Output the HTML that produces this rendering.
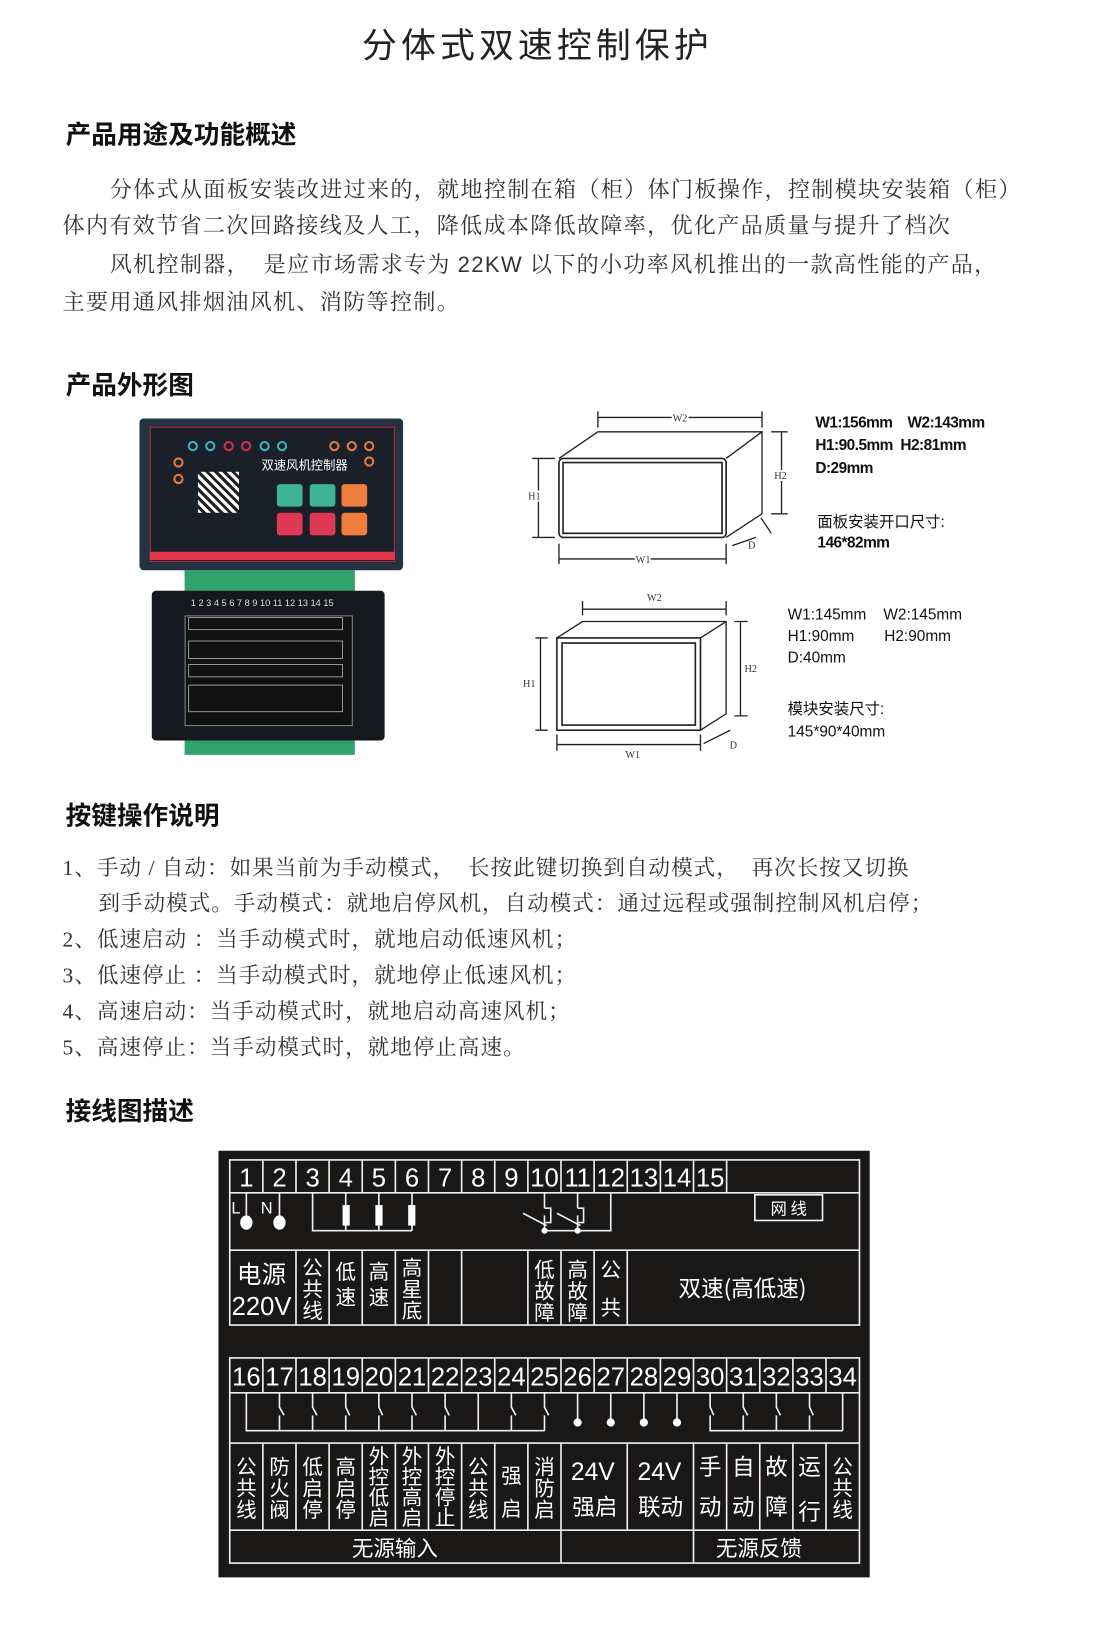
<!DOCTYPE html>
<html><head><meta charset="utf-8">
<style>
html,body{margin:0;padding:0;background:#fff;}
body{width:1093px;height:1606px;position:relative;overflow:hidden;font-family:"Liberation Serif","Noto Serif CJK SC",serif;color:#222;}
#w{position:absolute;left:0;top:0;width:1093px;height:1606px;transform:scale(1.0256);transform-origin:0 0;}
.t{position:absolute;white-space:nowrap;line-height:1;}
.h{font-family:"Liberation Sans","Noto Sans CJK SC",sans-serif;font-weight:bold;font-size:25px;color:#111;}
.p{font-size:21.5px;letter-spacing:1.3px;color:#333;}
.l{font-size:21px;letter-spacing:1px;color:#333;}
.d{font-family:"Liberation Sans","Noto Sans CJK SC",sans-serif;font-size:15px;color:#111;}
</style></head><body><div id="w">
<div class="t" style="left:353px;top:28px;font-size:34px;letter-spacing:4px;font-family:'Liberation Sans','Noto Sans CJK SC',sans-serif;color:#222;">分体式双速控制保护</div>

<div class="t h" style="left:64px;top:120px;">产品用途及功能概述</div>
<div class="t p" style="left:107px;top:175px;">分体式从面板安装改进过来的，就地控制在箱（柜）体门板操作，控制模块安装箱（柜）</div>
<div class="t p" style="left:61px;top:210px;">体内有效节省二次回路接线及人工，降低成本降低故障率，优化产品质量与提升了档次</div>
<div class="t p" style="left:107px;top:248px;">风机控制器，&nbsp;&nbsp;是应市场需求专为 <span style="font-family:'Liberation Sans',sans-serif;">22KW</span> 以下的小功率风机推出的一款高性能的产品，</div>
<div class="t p" style="left:61px;top:285px;">主要用通风排烟油风机、消防等控制。</div>

<div class="t h" style="left:64px;top:364px;">产品外形图</div>

<!-- product photo -->
<div style="position:absolute;left:180px;top:556px;width:166px;height:22px;background:#2fa36b;"></div>
<div style="position:absolute;left:180px;top:718px;width:166px;height:18px;background:#2fa36b;"></div>
<div style="position:absolute;left:148px;top:576px;width:227px;height:146px;background:#15181d;border-radius:4px;"></div>
<div style="position:absolute;left:180px;top:600px;width:162px;height:106px;border:1px solid #888;background:#111;"></div>
<div style="position:absolute;left:136px;top:408px;width:257px;height:148px;background:#243241;border-radius:4px;"></div>
<div style="position:absolute;left:146px;top:416px;width:237px;height:130px;border:1.5px solid #c0283d;background:#1a1f29;"></div>
<div style="position:absolute;left:146px;top:538px;width:239px;height:8px;background:#e2364b;"></div>
<div style="position:absolute;left:193px;top:460px;width:40px;height:40px;background:repeating-linear-gradient(45deg,#fff 0 3px,#222 3px 6px);"></div>
<div class="t" style="left:255px;top:448px;font-size:12px;color:#fff;font-family:'Noto Sans CJK SC',sans-serif;">双速风机控制器</div>
<div style="position:absolute;left:270px;top:472px;width:25px;height:22px;background:#3fb39a;border-radius:3px;"></div>
<div style="position:absolute;left:302px;top:472px;width:25px;height:22px;background:#3fb39a;border-radius:3px;"></div>
<div style="position:absolute;left:333px;top:472px;width:25px;height:22px;background:#ef7d3c;border-radius:3px;"></div>
<div style="position:absolute;left:270px;top:500px;width:25px;height:22px;background:#df3a55;border-radius:3px;"></div>
<div style="position:absolute;left:302px;top:500px;width:25px;height:22px;background:#df3a55;border-radius:3px;"></div>
<div style="position:absolute;left:333px;top:500px;width:25px;height:22px;background:#ef7d3c;border-radius:3px;"></div>
<svg style="position:absolute;left:0;top:0" width="1093" height="760">
<g fill="none" stroke-width="2">
<circle cx="188" cy="435" r="4" stroke="#3bb5c0"/><circle cx="205" cy="435" r="4" stroke="#3bb5c0"/><circle cx="223" cy="435" r="4" stroke="#d0304c"/><circle cx="240" cy="435" r="4" stroke="#d0304c"/><circle cx="258" cy="435" r="4" stroke="#3bb5c0"/><circle cx="275" cy="435" r="4" stroke="#3bb5c0"/>
<circle cx="326" cy="435" r="4" stroke="#e67b3a"/><circle cx="343" cy="435" r="4" stroke="#e67b3a"/><circle cx="360" cy="435" r="4" stroke="#e67b3a"/><circle cx="360" cy="450" r="4" stroke="#e67b3a"/>
<circle cx="174" cy="451" r="4" stroke="#e67b3a"/><circle cx="174" cy="467" r="4" stroke="#e67b3a"/>
</g>
<g stroke="#ccc" stroke-width="0.7" fill="none">
<rect x="184" y="602" width="150" height="12"/><rect x="184" y="625" width="150" height="17"/><rect x="184" y="648" width="150" height="12"/><rect x="184" y="668" width="150" height="26"/>
</g>
<text x="186" y="591" fill="#ddd" font-size="9" font-family="Liberation Sans">1 2 3 4 5 6 7 8 9 10 11 12 13 14 15</text>

<g stroke="#222" stroke-width="1.3" fill="none">
<path d="M545 447 L583 421 L743 421 L743 501 L708 524"/>
<path d="M708 447 L743 421"/>
<rect x="545" y="447" width="163" height="77" rx="4" stroke-width="1.6"/>
<rect x="549" y="451" width="155" height="69" stroke-width="1.6"/>
<path d="M583 407 H743 M583 401 V417 M743 401 V417"/>
<path d="M525 447 V524 M519 447 H541 M519 524 H541"/>
<path d="M762 421 V501 M752 421 H768 M752 501 H768"/>
<path d="M545 545 H708 M545 530 V550 M708 530 V550"/>
<path d="M714 532 L737 524 M742 505 L752 520"/>
</g>
<g font-family="Liberation Serif" font-size="10" fill="#333" text-anchor="middle">
<text x="663" y="411" style="paint-order:stroke" stroke="#fff" stroke-width="4">W2</text>
<text x="521" y="487" style="paint-order:stroke" stroke="#fff" stroke-width="4">H1</text>
<text x="761" y="467" style="paint-order:stroke" stroke="#fff" stroke-width="4">H2</text>
<text x="627" y="549" style="paint-order:stroke" stroke="#fff" stroke-width="4">W1</text>
<text x="733" y="535">D</text>
</g>
<g stroke="#222" stroke-width="1.3" fill="none">
<path d="M543 622 L568 606 L708 606 L708 696 L683 712"/>
<path d="M683 622 L708 606"/>
<rect x="543" y="622" width="140" height="90" stroke-width="1.6"/>
<rect x="548" y="627" width="130" height="80" stroke-width="1.6"/>
<path d="M568 594 H708 M568 586 V600 M708 586 V600"/>
<path d="M527 622 V712 M522 622 H534 M522 712 H534"/>
<path d="M722 606 V698 M716 606 H729 M716 698 H729"/>
<path d="M543 726 H683 M543 716 V732 M683 716 V732"/>
<path d="M686 725 L712 712"/>
</g>
<g font-family="Liberation Serif" font-size="10" fill="#333" text-anchor="middle">
<text x="638" y="586">W2</text><text x="516" y="670">H1</text><text x="732" y="655">H2</text><text x="617" y="739">W1</text><text x="715" y="730">D</text>
</g>
</svg>
<div class="t d" style="left:795px;top:405px;font-weight:bold;letter-spacing:-0.5px;">W1:156mm&nbsp;&nbsp;&nbsp;&nbsp;W2:143mm</div>
<div class="t d" style="left:795px;top:427px;font-weight:bold;letter-spacing:-0.5px;">H1:90.5mm&nbsp;&nbsp;H2:81mm</div>
<div class="t d" style="left:795px;top:449px;font-weight:bold;letter-spacing:-0.5px;">D:29mm</div>
<div class="t d" style="left:797px;top:502px;">面板安装开口尺寸:</div>
<div class="t d" style="left:797px;top:522px;font-weight:bold;letter-spacing:-0.5px;">146*82mm</div>
<div class="t d" style="left:768px;top:592px;">W1:145mm&nbsp;&nbsp;&nbsp;&nbsp;W2:145mm</div>
<div class="t d" style="left:768px;top:613px;">H1:90mm&nbsp;&nbsp;&nbsp;&nbsp;&nbsp;&nbsp;&nbsp;H2:90mm</div>
<div class="t d" style="left:768px;top:634px;">D:40mm</div>
<div class="t d" style="left:768px;top:684px;">模块安装尺寸:</div>
<div class="t d" style="left:768px;top:706px;">145*90*40mm</div>

<div class="t h" style="left:64px;top:784px;">按键操作说明</div>
<div class="t l" style="left:61px;top:836px;">1、手动 / 自动：如果当前为手动模式，&nbsp;&nbsp;长按此键切换到自动模式，&nbsp;&nbsp;再次长按又切换</div>
<div class="t l" style="left:96px;top:871px;">到手动模式。手动模式：就地启停风机，自动模式：通过远程或强制控制风机启停；</div>
<div class="t l" style="left:61px;top:906px;">2、低速启动 ：当手动模式时，就地启动低速风机；</div>
<div class="t l" style="left:61px;top:941px;">3、低速停止 ：当手动模式时，就地停止低速风机；</div>
<div class="t l" style="left:61px;top:976px;">4、高速启动：当手动模式时，就地启动高速风机；</div>
<div class="t l" style="left:61px;top:1011px;">5、高速停止：当手动模式时，就地停止高速。</div>

<div class="t h" style="left:64px;top:1072px;">接线图描述</div>

<svg style="position:absolute;left:0;top:0" width="1093" height="1606">
<rect x="213" y="1122" width="635" height="416" fill="#1a1817"/>
<g stroke="#eee" stroke-width="1.6" fill="none">
<path d="M224 1131 H838 V1163 H224 Z"/>
<path d="M256.3 1131V1163M288.6 1131V1163M320.9 1131V1163M353.2 1131V1163M385.5 1131V1163M417.8 1131V1163M450.1 1131V1163M482.4 1131V1163M514.7 1131V1163M547 1131V1163M579.3 1131V1163M611.6 1131V1163M643.9 1131V1163M676.2 1131V1163M708.5 1131V1163"/>
<path d="M224 1163 V1219 M838 1163 V1219"/>
<rect x="736" y="1165" width="66" height="25"/>
<path d="M240.2 1163 V1188 M272.5 1163 V1188"/>
<path d="M304.8 1163 V1200 H401.7 M337.1 1163 V1200 M369.4 1163 V1200 M401.7 1163 V1200"/>
<path d="M530.9 1163 V1178 M563.2 1163 V1178 M595.5 1163 V1200 H530.9 M530.9 1185 V1200 M563.2 1185 V1200"/>
<path d="M510 1183 L533 1195 M543 1183 L566 1195 M530.9 1178 H537 V1192 H531 M563.2 1178 H569 V1192 H563"/>
<path d="M224 1219 H838 V1292 H224 Z"/>
<path d="M288.6 1219V1292M320.9 1219V1292M353.2 1219V1292M385.5 1219V1292M417.8 1219V1292M450.1 1219V1292M514.7 1219V1292M547 1219V1292M579.3 1219V1292M611.6 1219V1292"/>
<path d="M224 1324 H838 V1358 H224 Z"/>
<path d="M256.3 1324V1358M288.6 1324V1358M320.9 1324V1358M353.2 1324V1358M385.5 1324V1358M417.8 1324V1358M450.1 1324V1358M482.4 1324V1358M514.7 1324V1358M547 1324V1358M579.3 1324V1358M611.6 1324V1358M643.9 1324V1358M676.2 1324V1358M708.5 1324V1358M740.8 1324V1358M773.1 1324V1358M805.4 1324V1358"/>
<path d="M224 1358 V1407 M838 1358 V1407"/>
<path d="M240.2 1358 V1395 H530.9"/>
<path d="M272.5 1358V1372L277 1380M272.5 1380V1395 M304.8 1358V1372L309 1380M304.8 1380V1395 M337.1 1358V1372L341 1380M337.1 1380V1395 M369.4 1358V1372L373 1380M369.4 1380V1395 M401.7 1358V1372L406 1380M401.7 1380V1395 M434 1358V1372L438 1380M434 1380V1395 M466.3 1358V1395 M498.6 1358V1372L503 1380M498.6 1380V1395 M530.9 1358V1372L535 1380M530.9 1380V1395"/>
<path d="M563.2 1358V1385 M595.5 1358V1385 M627.8 1358V1385 M660.1 1358V1385"/>
<path d="M692.4 1358V1372L696 1380M692.4 1380V1395 H821.6 M724.7 1358V1372L729 1380M724.7 1380V1395 M757 1358V1372L761 1380M757 1380V1395 M789.3 1358V1372L793 1380M789.3 1380V1395 M821.6 1358V1395"/>
<path d="M224 1407 H838 V1524 H224 Z M224 1492 H838"/>
<path d="M256.3 1407V1492M288.6 1407V1492M320.9 1407V1492M353.2 1407V1492M385.5 1407V1492M417.8 1407V1492M450.1 1407V1492M482.4 1407V1492M514.7 1407V1492M547 1407V1524M611.6 1407V1492M676.2 1407V1524M708.5 1407V1492M740.8 1407V1492M773.1 1407V1492M805.4 1407V1492"/>
</g>
<g fill="#fff">
<ellipse cx="240.2" cy="1192" rx="6" ry="7"/><ellipse cx="272.5" cy="1192" rx="6" ry="7"/>
<rect x="334" y="1175" width="7" height="20"/><rect x="366" y="1175" width="7" height="20"/><rect x="398" y="1175" width="7" height="20"/>
<circle cx="530.9" cy="1200" r="3"/><circle cx="563.2" cy="1200" r="3"/>
<circle cx="563.2" cy="1387" r="4"/><circle cx="595.5" cy="1387" r="4"/><circle cx="627.8" cy="1387" r="4"/><circle cx="660.1" cy="1387" r="4"/>
</g>
<g fill="#fff" font-family="Liberation Sans Narrow,Liberation Sans,sans-serif" font-size="25" text-anchor="middle">
<text x="240.2" y="1157">1</text><text x="272.5" y="1157">2</text><text x="304.8" y="1157">3</text><text x="337.1" y="1157">4</text><text x="369.4" y="1157">5</text><text x="401.7" y="1157">6</text><text x="434" y="1157">7</text><text x="466.3" y="1157">8</text><text x="498.6" y="1157">9</text><text x="530.9" y="1157">10</text><text x="563.2" y="1157">11</text><text x="595.5" y="1157">12</text><text x="627.8" y="1157">13</text><text x="660.1" y="1157">14</text><text x="692.4" y="1157">15</text>
<text x="240.2" y="1351">16</text><text x="272.5" y="1351">17</text><text x="304.8" y="1351">18</text><text x="337.1" y="1351">19</text><text x="369.4" y="1351">20</text><text x="401.7" y="1351">21</text><text x="434" y="1351">22</text><text x="466.3" y="1351">23</text><text x="498.6" y="1351">24</text><text x="530.9" y="1351">25</text><text x="563.2" y="1351">26</text><text x="595.5" y="1351">27</text><text x="627.8" y="1351">28</text><text x="660.1" y="1351">29</text><text x="692.4" y="1351">30</text><text x="724.7" y="1351">31</text><text x="757" y="1351">32</text><text x="789.3" y="1351">33</text><text x="821.6" y="1351">34</text>
<text x="230" y="1183" font-size="16">L</text><text x="260" y="1183" font-size="16">N</text>
<text x="255" y="1282" font-size="25">220V</text>
<text x="578" y="1443" font-size="24">24V</text><text x="643" y="1443" font-size="24">24V</text>
</g>
<g fill="#fff" font-family="Noto Sans CJK SC,sans-serif" text-anchor="middle" font-size="20">
<text x="769" y="1184" font-size="16">网 线</text>
<text x="255" y="1251" font-size="24">电源</text>
<text x="304.8" y="1243">公</text><text x="304.8" y="1264">共</text><text x="304.8" y="1285">线</text>
<text x="337.1" y="1247">低</text><text x="337.1" y="1272">速</text>
<text x="369.4" y="1247">高</text><text x="369.4" y="1272">速</text>
<text x="401.7" y="1243">高</text><text x="401.7" y="1264">星</text><text x="401.7" y="1285">底</text>
<text x="530.9" y="1245">低</text><text x="530.9" y="1266">故</text><text x="530.9" y="1287">障</text>
<text x="563.2" y="1245">高</text><text x="563.2" y="1266">故</text><text x="563.2" y="1287">障</text>
<text x="595.5" y="1245">公</text><text x="595.5" y="1282">共</text>
<text x="724" y="1264" font-size="22">双速(高低速)</text>
<text x="240.2" y="1437">公</text><text x="240.2" y="1458">共</text><text x="240.2" y="1479">线</text>
<text x="272.5" y="1437">防</text><text x="272.5" y="1458">火</text><text x="272.5" y="1479">阀</text>
<text x="304.8" y="1437">低</text><text x="304.8" y="1458">启</text><text x="304.8" y="1479">停</text>
<text x="337.1" y="1437">高</text><text x="337.1" y="1458">启</text><text x="337.1" y="1479">停</text>
<text x="369.4" y="1427">外</text><text x="369.4" y="1447">控</text><text x="369.4" y="1467">低</text><text x="369.4" y="1487">启</text>
<text x="401.7" y="1427">外</text><text x="401.7" y="1447">控</text><text x="401.7" y="1467">高</text><text x="401.7" y="1487">启</text>
<text x="434" y="1427">外</text><text x="434" y="1447">控</text><text x="434" y="1467">停</text><text x="434" y="1487">止</text>
<text x="466.3" y="1437">公</text><text x="466.3" y="1458">共</text><text x="466.3" y="1479">线</text>
<text x="498.6" y="1446">强</text><text x="498.6" y="1478">启</text>
<text x="530.9" y="1437">消</text><text x="530.9" y="1458">防</text><text x="530.9" y="1479">启</text>
<text x="580" y="1477" font-size="22">强启</text><text x="644" y="1477" font-size="22">联动</text>
<text x="692.4" y="1438" font-size="22">手</text><text x="692.4" y="1477" font-size="22">动</text>
<text x="724.7" y="1438" font-size="22">自</text><text x="724.7" y="1477" font-size="22">动</text>
<text x="757" y="1438" font-size="22">故</text><text x="757" y="1477" font-size="22">障</text>
<text x="789.3" y="1438" font-size="22">运</text><text x="789.3" y="1482" font-size="22">行</text>
<text x="821.6" y="1437">公</text><text x="821.6" y="1458">共</text><text x="821.6" y="1479">线</text>
<text x="385" y="1517" font-size="21">无源输入</text>
<text x="740" y="1517" font-size="21">无源反馈</text>
</g>
</svg>
</div></body></html>
